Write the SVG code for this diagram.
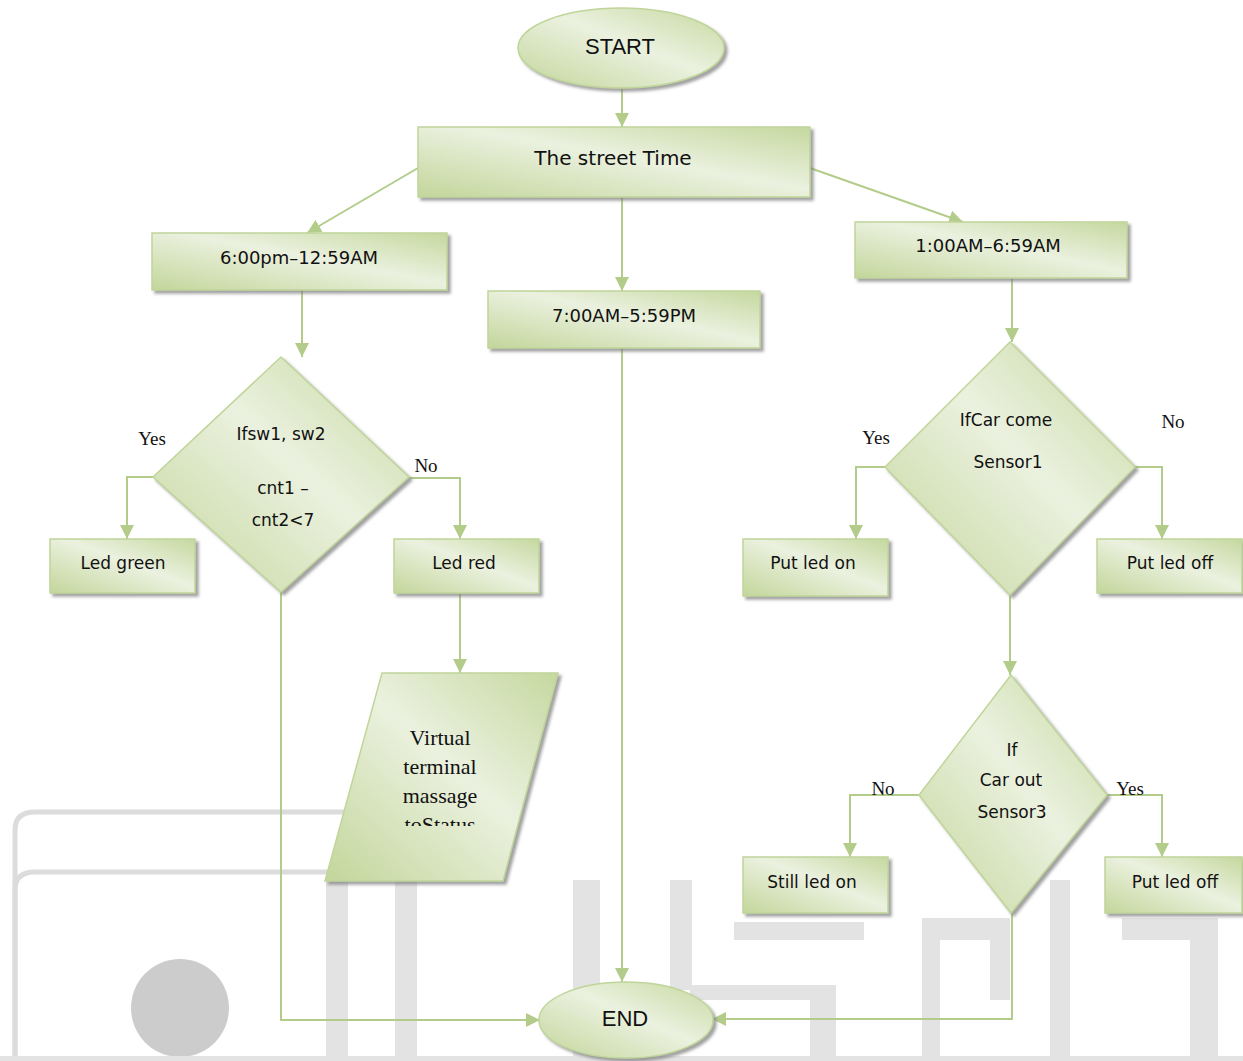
<svg xmlns="http://www.w3.org/2000/svg" width="1243" height="1061" viewBox="0 0 1243 1061">
<defs>
<linearGradient id="g" x1="0" y1="1" x2="1" y2="0">
<stop offset="0" stop-color="#c3d69b"/>
<stop offset="0.55" stop-color="#ebf1df"/>
<stop offset="1" stop-color="#c5d89f"/>
</linearGradient>
<filter id="sh" x="-10%" y="-10%" width="125%" height="130%">
<feDropShadow dx="3" dy="3" stdDeviation="1.5" flood-color="#7a7a7a" flood-opacity="0.7"/>
</filter>
<marker id="ah" viewBox="0 0 12 12" refX="12" refY="6" markerWidth="14" markerHeight="14" markerUnits="userSpaceOnUse" orient="auto">
<path d="M0,0 L12,6 L0,12 z" fill="#b3cc8a"/>
</marker>
<clipPath id="pc"><rect x="300" y="660" width="280" height="166"/></clipPath>
</defs>
<style>
.n{fill:url(#g);stroke:#c0d59a;stroke-width:1.5;filter:url(#sh)}
.t{font-family:"DejaVu Sans",sans-serif;font-size:17px;fill:#111;text-anchor:middle;dominant-baseline:central}
.s{font-family:"Liberation Serif",serif;font-size:19px;fill:#111;text-anchor:middle;dominant-baseline:central}
.c{fill:none;stroke:#b3cc8a;stroke-width:2}
.w{fill:#e3e3e3}
.wl{fill:none;stroke:#dcdcdc;stroke-width:5}
</style>
<rect width="1243" height="1061" fill="#fff"/>
<g id="watermark">
<path class="wl" d="M15,1061 L15,830 Q15,812 35,812 L420,812"/>
<path class="wl" d="M15,1061 L15,890 Q15,872 35,872 L420,872"/>
<ellipse cx="180" cy="1008" rx="49" ry="49" fill="#cccccc"/>
<rect class="w" x="326" y="880" width="22" height="181"/>
<rect class="w" x="395" y="880" width="22" height="181"/>
<rect class="w" x="573" y="880" width="27" height="178"/>
<rect class="w" x="670" y="880" width="22" height="110"/>
<rect class="w" x="734" y="922" width="130" height="18"/>
<rect class="w" x="690" y="985" width="120" height="15"/>
<rect class="w" x="810" y="985" width="26" height="73"/>
<rect class="w" x="922" y="918" width="18" height="140"/>
<rect class="w" x="940" y="918" width="70" height="22"/>
<rect class="w" x="990" y="940" width="20" height="60"/>
<rect class="w" x="1050" y="880" width="20" height="178"/>
<rect class="w" x="1122" y="918" width="96" height="22"/>
<rect class="w" x="1190" y="940" width="28" height="118"/>
<rect class="w" x="0" y="1056" width="1243" height="5"/>
</g>
<g id="connectors">
<path class="c" d="M622,88 L622,127" marker-end="url(#ah)"/>
<path class="c" d="M418,168 L307,233" marker-end="url(#ah)"/>
<path class="c" d="M810,168 L963,222" marker-end="url(#ah)"/>
<path class="c" d="M622,197 L622,291" marker-end="url(#ah)"/>
<path class="c" d="M302,290 L302,357" marker-end="url(#ah)"/>
<path class="c" d="M153,477 L127,477 L127,539" marker-end="url(#ah)"/>
<path class="c" d="M409,478 L460,478 L460,539" marker-end="url(#ah)"/>
<path class="c" d="M460,593 L460,673" marker-end="url(#ah)"/>
<path class="c" d="M281,592 L281,1020 L540,1020" marker-end="url(#ah)"/>
<path class="c" d="M622,348 L622,982" marker-end="url(#ah)"/>
<path class="c" d="M1012,278 L1012,342" marker-end="url(#ah)"/>
<path class="c" d="M885,467 L856,467 L856,539" marker-end="url(#ah)"/>
<path class="c" d="M1135,467 L1162,467 L1162,539" marker-end="url(#ah)"/>
<path class="c" d="M1010,595 L1010,675" marker-end="url(#ah)"/>
<path class="c" d="M919,795 L850,795 L850,857" marker-end="url(#ah)"/>
<path class="c" d="M1107,795 L1162,795 L1162,857" marker-end="url(#ah)"/>
<path class="c" d="M1012,913 L1012,1019 L712,1019" marker-end="url(#ah)"/>
</g>
<g id="start"><ellipse class="n" cx="621" cy="48" rx="103" ry="40"/><text class="t" x="620" y="46" style="font-family:'Liberation Sans',sans-serif;font-size:22px">START</text></g>
<g id="street"><rect class="n" x="418" y="127" width="392" height="70"/><text class="t" x="613" y="158" style="font-size:20px">The street Time</text></g>
<g id="evening"><rect class="n" x="152" y="233" width="295" height="57"/><text class="t" x="299" y="257" style="font-size:18px">6:00pm–12:59AM</text></g>
<g id="day"><rect class="n" x="488" y="291" width="272" height="57"/><text class="t" x="624" y="315" style="font-size:18px">7:00AM–5:59PM</text></g>
<g id="night"><rect class="n" x="855" y="222" width="272" height="56"/><text class="t" x="988" y="245" style="font-size:18px">1:00AM–6:59AM</text></g>
<g id="dec-sw"><polygon class="n" points="281,357 409,477 281,592 153,477"/>
<text class="t" x="281" y="434">Ifsw1, sw2</text><text class="t" x="283" y="488">cnt1 –</text><text class="t" x="283" y="520">cnt2&lt;7</text></g>
<g id="led-green"><rect class="n" x="50" y="539" width="145" height="54"/><text class="t" x="123" y="563">Led green</text></g>
<g id="led-red"><rect class="n" x="394" y="539" width="145" height="54"/><text class="t" x="464" y="563">Led red</text></g>
<g id="terminal"><polygon class="n" points="382,673 558,673 503,881 325,881"/>
<g clip-path="url(#pc)"><text class="s" style="font-size:22px" x="440" y="737">Virtual</text><text class="s" style="font-size:22px" x="440" y="766">terminal</text><text class="s" style="font-size:22px" x="440" y="795">massage</text><text class="s" style="font-size:22px" x="440" y="824">toStatus</text></g></g>
<g id="dec-s1"><polygon class="n" points="1010,342 1135,467 1010,595 885,467"/>
<text class="t" x="1006" y="420">IfCar come</text><text class="t" x="1008" y="462">Sensor1</text></g>
<g id="put-on"><rect class="n" x="743" y="539" width="145" height="57"/><text class="t" x="813" y="563">Put led on</text></g>
<g id="put-off1"><rect class="n" x="1097" y="539" width="145" height="54"/><text class="t" x="1170" y="563">Put led off</text></g>
<g id="dec-s3"><polygon class="n" points="1011,675 1107,795 1011,913 919,795"/>
<text class="t" x="1012" y="750">If</text><text class="t" x="1011" y="780">Car out</text><text class="t" x="1012" y="812">Sensor3</text></g>
<g id="still-on"><rect class="n" x="743" y="857" width="145" height="56"/><text class="t" x="812" y="882">Still led on</text></g>
<g id="put-off2"><rect class="n" x="1105" y="857" width="137" height="56"/><text class="t" x="1175" y="882">Put led off</text></g>
<g id="end"><ellipse class="n" cx="626" cy="1020" rx="87" ry="38"/><text class="t" x="625" y="1018" style="font-family:'Liberation Sans',sans-serif;font-size:22px">END</text></g>
<g id="labels">
<text class="s" x="152" y="438">Yes</text>
<text class="s" x="426" y="465">No</text>
<text class="s" x="876" y="437">Yes</text>
<text class="s" x="1173" y="421">No</text>
<text class="s" x="883" y="788">No</text>
<text class="s" x="1130" y="788">Yes</text>
</g>
</svg>
